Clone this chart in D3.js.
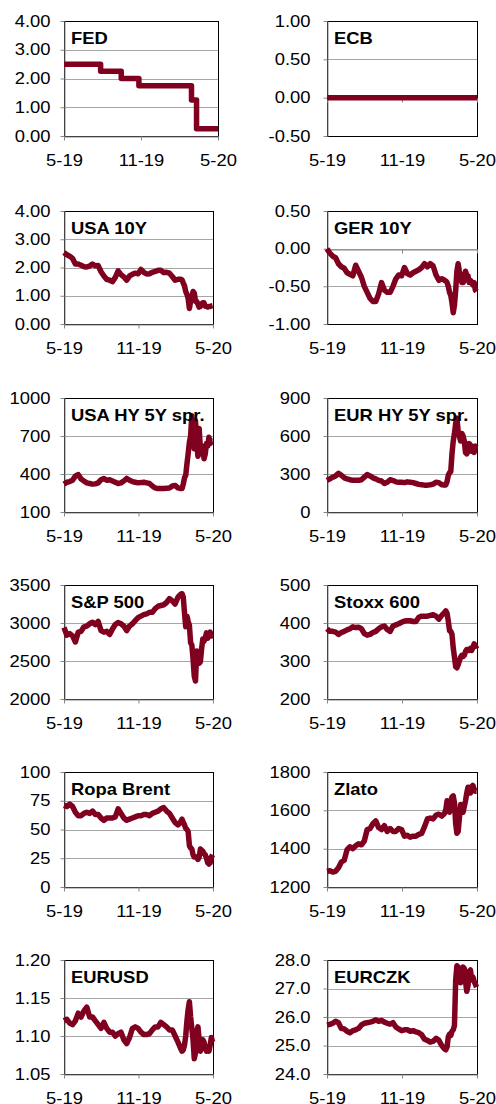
<!DOCTYPE html>
<html><head><meta charset="utf-8">
<script src="https://cdn.jsdelivr.net/npm/d3@7"></script>
<style>
html,body{margin:0;padding:0;background:#fff;}
svg{display:block;}
</style></head><body>
<svg id="c" width="496" height="1104"></svg>
<script>
// ---------- DATA ----------
const dates = [
 "2019-05-05","2019-05-12","2019-05-19","2019-05-26","2019-06-02","2019-06-09","2019-06-16","2019-06-23","2019-06-30",
 "2019-07-07","2019-07-14","2019-07-21","2019-07-28","2019-08-04","2019-08-11","2019-08-18","2019-08-25",
 "2019-09-01","2019-09-08","2019-09-15","2019-09-22","2019-09-29","2019-10-06","2019-10-13","2019-10-20","2019-10-27",
 "2019-11-03","2019-11-10","2019-11-17","2019-11-24","2019-12-01","2019-12-08","2019-12-15","2019-12-22","2019-12-29",
 "2020-01-05","2020-01-12","2020-01-19","2020-01-26","2020-02-02","2020-02-09","2020-02-16",
 "2020-02-19","2020-02-22","2020-02-25","2020-02-28","2020-03-02","2020-03-05","2020-03-08","2020-03-11","2020-03-14",
 "2020-03-17","2020-03-20","2020-03-23","2020-03-26","2020-03-29","2020-04-01","2020-04-04","2020-04-07","2020-04-10",
 "2020-04-13","2020-04-16","2020-04-19","2020-04-22","2020-04-25","2020-04-28","2020-05-01","2020-05-04"
];

const fedDates  = ["2019-05-05","2019-07-31","2019-09-18","2019-10-30","2020-03-03","2020-03-15","2020-05-05"];
const fedValues = [2.50, 2.25, 2.00, 1.75, 1.25, 0.25, 0.25];

const ecbDates  = ["2019-05-05","2020-05-05"];
const ecbValues = [0.00, 0.00];

const usa10y = [2.53,2.45,2.40,2.32,2.12,2.12,2.08,2.03,2.02,2.05,2.12,2.06,2.07,1.85,1.70,1.58,1.55,1.50,1.65,1.88,1.75,1.67,1.55,1.70,1.76,1.80,1.78,1.93,1.83,1.77,1.78,1.83,1.86,1.90,1.90,1.82,1.83,1.80,1.68,1.55,1.58,1.58,
 1.56,1.45,1.35,1.15,1.05,0.90,0.55,0.80,0.95,1.15,1.10,0.80,0.80,0.70,0.60,0.62,0.72,0.75,0.75,0.63,0.63,0.60,0.62,0.62,0.64,0.65];

const ger10y = [0.00,-0.06,-0.10,-0.12,-0.20,-0.24,-0.26,-0.32,-0.34,-0.36,-0.22,-0.30,-0.38,-0.50,-0.58,-0.66,-0.70,-0.70,-0.60,-0.45,-0.55,-0.58,-0.58,-0.50,-0.40,-0.35,-0.36,-0.25,-0.33,-0.35,-0.32,-0.30,-0.28,-0.25,-0.20,-0.24,-0.20,-0.23,-0.35,-0.42,-0.40,-0.42,
 -0.43,-0.45,-0.50,-0.58,-0.62,-0.72,-0.85,-0.75,-0.55,-0.30,-0.20,-0.30,-0.35,-0.45,-0.45,-0.42,-0.30,-0.35,-0.36,-0.45,-0.42,-0.45,-0.48,-0.45,-0.55,-0.57];

const usaHy = [320,335,340,350,385,395,360,345,330,325,320,322,330,355,365,350,355,345,335,325,330,345,365,350,340,335,330,332,335,330,325,305,290,285,285,285,288,290,305,310,290,285,
 285,320,370,390,480,560,650,700,860,780,600,820,650,540,760,600,560,620,520,560,640,620,690,640,660,660];

const eurHy = [250,262,275,285,305,290,270,262,255,250,250,250,255,275,295,285,270,262,250,245,225,235,255,248,238,235,235,232,238,235,232,225,218,215,212,212,215,220,235,232,215,212,
 215,240,290,310,320,460,560,620,700,740,640,600,560,620,600,560,470,460,480,540,530,480,500,470,520,510];

const sp500 = [2940,2840,2860,2830,2750,2880,2890,2950,2960,2990,3010,2980,3020,2900,2880,2890,2850,2920,2980,3005,2990,2960,2900,2960,2990,3030,3070,3090,3110,3120,3140,3140,3190,3220,3230,3240,3270,3320,3290,3250,3340,3380,
 3385,3340,3130,2950,3090,3020,2970,2740,2710,2530,2300,2237,2630,2540,2470,2490,2660,2790,2760,2800,2870,2800,2840,2880,2830,2840];

const stoxx600 = [385,378,378,376,370,375,378,382,385,390,388,389,385,372,368,370,375,378,385,390,392,383,378,392,395,398,402,405,406,406,404,404,415,418,418,418,420,422,418,410,420,428,
 432,425,405,380,378,370,335,310,285,282,290,300,310,315,312,315,325,330,330,328,333,328,335,345,340,332];

const brent = [71,70,72,70,65,62,62,64,65,64,66,63,63,60,58,60,60,60,61,68,64,60,58,59,60,61,62,62,63,63,62,64,65,66,68,69,66,64,60,56,54,57,
 59,56,54,51,50,48,36,34,33,28,26,26,26,24,26,33,32,31,29,28,25,21,20,21,26,28];

const gold = [1282,1285,1278,1282,1300,1330,1340,1395,1410,1400,1415,1425,1420,1440,1500,1505,1530,1545,1510,1500,1520,1490,1505,1490,1490,1505,1500,1465,1470,1460,1465,1465,1475,1480,1515,1555,1560,1555,1575,1580,1570,1585,
 1605,1650,1645,1590,1640,1670,1675,1640,1530,1480,1490,1560,1630,1620,1590,1620,1650,1690,1720,1720,1690,1715,1730,1710,1700,1700];

const eurusd = [1.120,1.122,1.117,1.115,1.120,1.130,1.125,1.133,1.138,1.125,1.125,1.120,1.115,1.110,1.118,1.110,1.105,1.105,1.100,1.103,1.105,1.095,1.090,1.098,1.110,1.112,1.110,1.105,1.102,1.102,1.103,1.108,1.112,1.112,1.118,1.115,1.112,1.108,1.108,1.100,1.092,1.083,
 1.080,1.082,1.088,1.100,1.120,1.135,1.145,1.125,1.110,1.095,1.070,1.078,1.105,1.112,1.095,1.080,1.085,1.095,1.092,1.085,1.080,1.083,1.080,1.088,1.098,1.092];

const eurczk = [25.72,25.74,25.78,25.85,25.80,25.60,25.58,25.50,25.45,25.52,25.55,25.60,25.72,25.78,25.80,25.82,25.85,25.90,25.85,25.88,25.82,25.78,25.75,25.80,25.65,25.58,25.52,25.55,25.55,25.50,25.52,25.48,25.45,25.38,25.22,25.18,25.12,25.15,25.25,25.18,25.00,24.88,
 24.85,24.95,25.30,25.40,25.35,25.50,25.55,25.70,27.30,27.80,27.75,27.70,27.20,27.60,27.75,27.70,27.25,26.90,27.10,27.60,27.65,27.30,27.40,27.25,27.15,27.05];

const titles = ["FED","ECB","USA 10Y","GER 10Y","USA HY 5Y spr.","EUR HY 5Y spr.","S&P 500","Stoxx 600","Ropa Brent","Zlato","EURUSD","EURCZK"];

const yTicksFed    = [0,1,2,3,4];
const yTicksEcb    = [-0.5,0,0.5,1];
const yTicksUsa10  = [0,1,2,3,4];
const yTicksGer10  = [-1,-0.5,0,0.5];
const yTicksUsaHy  = [100,400,700,1000];
const yTicksEurHy  = [0,300,600,900];
const yTicksSp     = [2000,2500,3000,3500];
const yTicksStoxx  = [200,300,400,500];
const yTicksBrent  = [0,25,50,75,100];
const yTicksGold   = [1200,1400,1600,1800];
const yTicksEurusd = [1.05,1.10,1.15,1.20];
const yTicksEurczk = [24,25,26,27,28];

const xDomainDates = ["2019-05-05","2020-05-05"];
const xTickDates   = ["2019-05-05","2019-11-04","2020-05-05"];
const xTickLabels  = ["5-19","11-19","5-20"];

// ---------- DRAWING ----------
const parse = d3.timeParse("%Y-%m-%d");
const loc = d3.formatLocale({decimal:".", thousands:",", grouping:[3], currency:["",""], minus:"-"});
const FONT = '"Liberation Sans", Arial, Helvetica, sans-serif';
const FS = 16, SX = 1.15;
const LINE = "#80001f";

const rowsY = [[21,136],[211,324],[398,512],[585,699],[772,887],[960,1074]];
const colsX = [[64,213,14],[327,477,17]];

const panels = [
  {d:fedDates, v:fedValues, t:yTicksFed, f:".2f", step:true, right:218},
  {d:ecbDates, v:ecbValues, t:yTicksEcb, f:".2f", step:true},
  {d:dates, v:usa10y, t:yTicksUsa10, f:".2f"},
  {d:dates, v:ger10y, t:yTicksGer10, f:".2f"},
  {d:dates, v:usaHy, t:yTicksUsaHy, f:"d"},
  {d:dates, v:eurHy, t:yTicksEurHy, f:"d"},
  {d:dates, v:sp500, t:yTicksSp, f:"d"},
  {d:dates, v:stoxx600, t:yTicksStoxx, f:"d"},
  {d:dates, v:brent, t:yTicksBrent, f:"d"},
  {d:dates, v:gold, t:yTicksGold, f:"d"},
  {d:dates, v:eurusd, t:yTicksEurusd, f:".2f"},
  {d:dates, v:eurczk, t:yTicksEurczk, f:".1f"}
];

const svg = d3.select("#c");
const xDom = xDomainDates.map(parse);
const xTicks = xTickDates.map(parse);

function styleAxis(sel){
  sel.attr("font-family", FONT).attr("font-size", FS);
  sel.selectAll(".domain").attr("stroke","#868686");
  sel.selectAll(".tick line").attr("stroke","#868686");
  sel.selectAll("text").attr("fill","#000");
}

panels.forEach((p, i) => {
  const row = Math.floor(i/2), col = i%2;
  const [top, bottom] = rowsY[row];
  const [left, rDef, gap] = colsX[col];
  const right = p.right || rDef;
  const x = d3.scaleTime().domain(xDom).range([left, right]);
  const y = d3.scaleLinear().domain(d3.extent(p.t)).range([bottom, top]);
  const g = svg.append("g");

  // gridlines
  g.selectAll("line.grid").data(p.t.filter(v => v !== d3.min(p.t) && v !== d3.max(p.t))).join("line")
    .attr("class","grid")
    .attr("x1", left).attr("x2", right)
    .attr("y1", d => Math.round(y(d))+0.5).attr("y2", d => Math.round(y(d))+0.5)
    .attr("stroke","#a6a6a6").attr("stroke-width",1.2);

  // plot border
  g.append("rect").attr("x", left+0.5).attr("y", top+0.5)
    .attr("width", right-left).attr("height", bottom-top)
    .attr("fill","none").attr("stroke","#000").attr("stroke-width",1);

  // y axis
  const ya = g.append("g").attr("transform", `translate(${left+0.5},0)`)
    .call(d3.axisLeft(y).tickValues(p.t).tickFormat(loc.format(p.f)).tickSize(4).tickSizeOuter(0));
  styleAxis(ya);
  ya.selectAll("text").attr("x", -gap/SX).attr("transform", `scale(${SX},1)`);

  // x axis
  const hasNeg = d3.min(p.t) < 0;
  const xa = g.append("g").attr("transform", `translate(0,${Math.round(hasNeg ? y(0) : bottom)+0.5})`)
    .call(d3.axisBottom(x).tickValues(xTicks).tickFormat((d,k) => hasNeg ? "" : xTickLabels[k]).tickSize(4).tickSizeOuter(0).tickPadding(14));
  styleAxis(xa);
  if (hasNeg) {
    const xl = g.append("g").attr("transform", `translate(0,${bottom+0.5})`)
      .call(d3.axisBottom(x).tickValues(xTicks).tickFormat((d,k) => xTickLabels[k]).tickSize(0).tickPadding(18));
    styleAxis(xl);
    xl.select(".domain").remove();
    xl.selectAll("text").attr("transform", `scale(${SX},1)`);
    xl.selectAll(".tick").each(function(){ const tx = d3.select(this); });
  }
  xa.selectAll("text").attr("transform", `scale(${SX},1)`);
  // keep label centres on tick after horizontal scaling
  g.selectAll(".tick").each(function(){
    const t = d3.select(this).attr("transform");
  });

  // data line
  const pts = p.d.map((d,k) => ({date: parse(d), value: p.v[k]}));
  g.append("path").datum(pts)
    .attr("fill","none").attr("stroke", LINE).attr("stroke-width", 5.5)
    .attr("stroke-linejoin","round").attr("stroke-linecap","butt")
    .attr("d", d3.line().x(d => x(d.date)).y(d => y(d.value)).curve(p.step ? d3.curveStepAfter : d3.curveLinear));

  // title
  g.append("text").attr("transform", `translate(${left+7},${top+23}) scale(${SX},1)`)
    .attr("font-family", FONT).attr("font-size", FS).attr("font-weight","bold").attr("fill","#000")
    .text(titles[i]);
});
</script>
</body></html>
